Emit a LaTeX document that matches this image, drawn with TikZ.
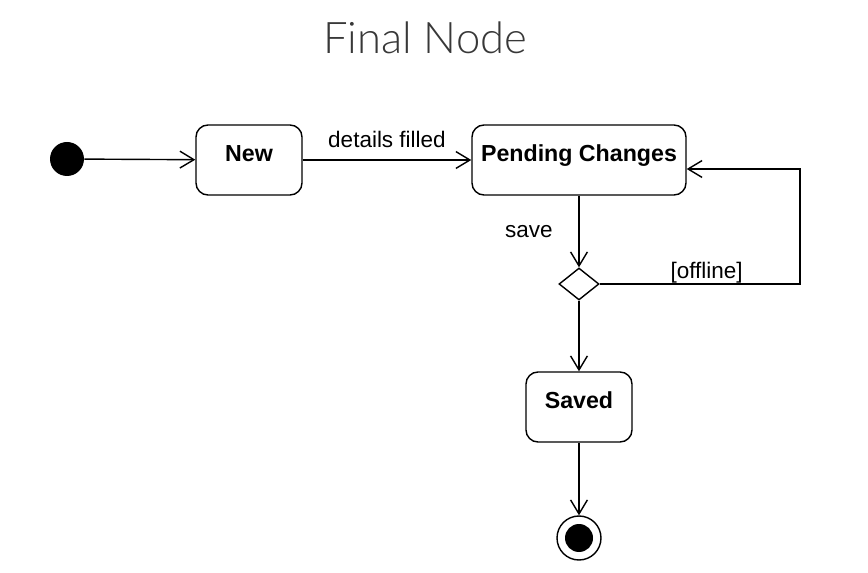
\documentclass[tikz,border=0pt]{standalone}
\usepackage{fontspec}
\setmainfont{Liberation Sans}
\newfontfamily\titlefont{Lato Light}
\usetikzlibrary{arrows.meta, shapes.geometric, positioning}

\tikzset{
	statebox/.style={draw, line width=1pt, rounded corners=0.3cm, inner sep=0pt, minimum height=1.75cm,
		text height=12pt, text depth=10.5pt, font=\fontsize{16.5}{19}\selectfont\bfseries},
	decision/.style={draw, line width=1pt, diamond, aspect=1.25, minimum width=1cm, minimum height=0.8cm, inner sep=0pt},
	startnode/.style={circle, fill=black, minimum size=0.85cm, inner sep=0pt},
	endnode/.style={circle, draw, line width=1pt, minimum size=1.1cm, inner sep=0pt},
	trans/.style={line width=1pt, -{Straight Barb[length=10pt, width=12pt]}},
	lbl/.style={font=\fontsize{16}{19}\selectfont}
}

\begin{document}
\begin{tikzpicture}
				\useasboundingbox (0,0) rectangle (21.7,-14.325);
				% title
				\node[text=black!78, font=\titlefont\fontsize{31}{36}\selectfont] (title) at (10.625,-0.95) {Final Node};
				% states
				\node[startnode] (init) at (1.675,-3.975) {};
				\node[statebox, minimum width=2.65cm] (new) at (6.225,-4.0) {New};
				\node[statebox, minimum width=5.35cm] (pend) at (14.475,-4.0) {Pending Changes};
				\node[decision] (dec) at (14.475,-7.1) {};
				\node[statebox, minimum width=2.65cm] (saved) at (14.475,-10.175) {Saved};
				\node[endnode] (final) at (14.475,-13.45) {};
				\fill[black] (final.center) circle (0.35cm);
				\coordinate (loop) at (20,-4.225);
				% transitions
				\draw[trans] (init) -- (new);
				\draw[trans] (new) -- node[lbl, above=5pt] (details) {details filled} (pend);
				\draw[trans] (pend) -- node[lbl, left=15pt] (save) {save} (dec);
				\draw[trans] (dec.east) -| node[lbl, pos=0.267, above=0pt, inner sep=0pt] (offline) {[offline]} (loop) -- (pend.east |- loop);
				\draw[trans] (dec) -- (saved);
				\draw[trans] (saved) -- (final);
			\end{tikzpicture}
\end{document}
